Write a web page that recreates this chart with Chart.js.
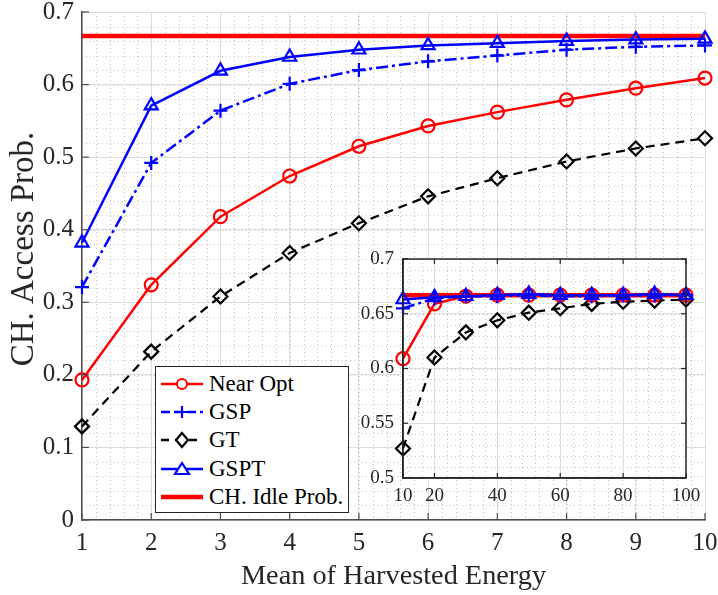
<!DOCTYPE html>
<html>
<head>
<meta charset="utf-8">
<script src="https://cdn.jsdelivr.net/npm/chart.js@4.4.0/dist/chart.umd.min.js"></script>
<style>
  html, body { margin: 0; padding: 0; background: #fff; }
  #wrap { position: relative; width: 718px; height: 595px; overflow: hidden; }
  #mainChart { position: absolute; left: 0; top: 0; }
  #insetChart { position: absolute; left: 340px; top: 245px; }
  #legend {
    position: absolute; left: 155px; top: 366px; width: 194px; height: 147px;
    box-sizing: border-box; border: 1px solid #262626; background: #fff;
    padding-top: 3px; font-family: "Liberation Serif", serif; font-size: 23px; color: #000;
  }
  #legend .row { display: flex; align-items: center; height: 28.2px; }
  #legend svg { margin-left: 3px; flex: none; }
  #legend span { margin-left: 4px; white-space: nowrap; }
</style>
</head>
<body>
<div id="wrap">
  <canvas id="mainChart" width="718" height="595"></canvas>
  <canvas id="insetChart" width="360" height="275"></canvas>
  <div id="legend"></div>
</div>
<script>
// main plot: mean of harvested energy 1..10
const energy = [1, 2, 3, 4, 5, 6, 7, 8, 9, 10];
const nearOpt = [0.193, 0.324, 0.418, 0.474, 0.515, 0.543, 0.562, 0.579, 0.595, 0.609];
const gsp     = [0.321, 0.492, 0.564, 0.601, 0.620, 0.632, 0.640, 0.648, 0.652, 0.654];
const gt      = [0.129, 0.232, 0.308, 0.368, 0.409, 0.446, 0.471, 0.494, 0.512, 0.526];
const gspt    = [0.382, 0.571, 0.619, 0.638, 0.648, 0.654, 0.657, 0.660, 0.662, 0.663];
const idleProb = [0.667, 0.667, 0.667, 0.667, 0.667, 0.667, 0.667, 0.667, 0.667, 0.667];

// inset: energy 10..100
const insetEnergy = [10, 20, 30, 40, 50, 60, 70, 80, 90, 100];
const insetNearOpt = [0.609, 0.659, 0.666, 0.667, 0.667, 0.667, 0.667, 0.667, 0.667, 0.667];
const insetGsp     = [0.655, 0.664, 0.666, 0.666, 0.667, 0.666, 0.666, 0.667, 0.667, 0.667];
const insetGt      = [0.527, 0.610, 0.633, 0.644, 0.651, 0.655, 0.659, 0.661, 0.662, 0.663];
const insetGspt    = [0.663, 0.665, 0.666, 0.667, 0.668, 0.667, 0.667, 0.667, 0.668, 0.667];
const insetIdle    = [0.667, 0.667, 0.667, 0.667, 0.667, 0.667, 0.667, 0.667, 0.667, 0.667];

const insetXTicks = [10, 20, 40, 60, 80, 100];

const seriesNames = ['Near Opt', 'GSP', 'GT', 'GSPT', 'CH. Idle Prob.'];
const xTitle = 'Mean of Harvested Energy';
const yTitle = 'CH. Access Prob.';

const FONT = '"Liberation Serif", "Times New Roman", serif';
Chart.defaults.font.family = FONT;
Chart.defaults.color = '#262626';

const toPoints = (xs, ys) => xs.map((x, i) => ({ x: x, y: ys[i] }));

function makeDatasets(xs, a, b, c, d, e) {
  const common = { fill: false, tension: 0, clip: false, pointBackgroundColor: 'rgba(0,0,0,0)', pointBorderWidth: 2.2 };
  return [
    { ...common, label: seriesNames[4], data: toPoints(xs, e), borderColor: '#ff0000', borderWidth: 4.5, pointRadius: 0, order: 5 },
    { ...common, label: seriesNames[2], data: toPoints(xs, c), borderColor: '#000', borderWidth: 2.2, borderDash: [9, 6],
      pointStyle: 'rectRot', pointRadius: 7, pointBorderColor: '#000', order: 4 },
    { ...common, label: seriesNames[0], data: toPoints(xs, a), borderColor: '#ff0000', borderWidth: 2.5,
      pointStyle: 'circle', pointRadius: 6.5, pointBorderColor: '#ff0000', order: 3 },
    { ...common, label: seriesNames[1], data: toPoints(xs, b), borderColor: '#0000ff', borderWidth: 2.5, borderDash: [12, 4, 3, 4],
      pointStyle: 'cross', pointRadius: 7, pointBorderColor: '#0000ff', order: 2 },
    { ...common, label: seriesNames[3], data: toPoints(xs, d), borderColor: '#0000ff', borderWidth: 2.5,
      pointStyle: 'triangle', pointRadius: 7.5, pointBorderColor: '#0000ff', order: 1 }
  ];
}

// white plot background, dotted minor grid, inward tick marks, optional box
const matlabGrid = {
  id: 'matlabGrid',
  beforeDraw(chart, args, opts) {
    const { ctx, chartArea: a, scales } = chart;
    ctx.save();
    ctx.fillStyle = '#fff';
    ctx.fillRect(a.left, a.top, a.width, a.height);
    ctx.strokeStyle = '#c4c4c4';
    ctx.lineWidth = 1;
    ctx.setLineDash([1, 3]);
    const sx = scales.x, sy = scales.y;
    for (let k = Math.ceil(sx.min / opts.xStep - 1e-6); k * opts.xStep <= sx.max + 1e-6; k++) {
      const px = Math.round(sx.getPixelForValue(k * opts.xStep)) + 0.5;
      ctx.beginPath(); ctx.moveTo(px, a.top); ctx.lineTo(px, a.bottom); ctx.stroke();
    }
    for (let k = Math.ceil(sy.min / opts.yStep - 1e-6); k * opts.yStep <= sy.max + 1e-6; k++) {
      const py = Math.round(sy.getPixelForValue(k * opts.yStep)) + 0.5;
      ctx.beginPath(); ctx.moveTo(a.left, py); ctx.lineTo(a.right, py); ctx.stroke();
    }
    ctx.restore();
  },
  afterDraw(chart, args, opts) {
    const { ctx, chartArea: a, scales } = chart;
    const L = opts.tickLen;
    ctx.save();
    ctx.strokeStyle = opts.axisColor;
    ctx.lineWidth = 1.2;
    scales.x.ticks.forEach(t => {
      const px = scales.x.getPixelForValue(t.value);
      ctx.beginPath(); ctx.moveTo(px, a.bottom); ctx.lineTo(px, a.bottom - L); ctx.stroke();
      if (opts.box) { ctx.beginPath(); ctx.moveTo(px, a.top); ctx.lineTo(px, a.top + L); ctx.stroke(); }
    });
    scales.y.ticks.forEach(t => {
      const py = scales.y.getPixelForValue(t.value);
      ctx.beginPath(); ctx.moveTo(a.left, py); ctx.lineTo(a.left + L, py); ctx.stroke();
      if (opts.box) { ctx.beginPath(); ctx.moveTo(a.right, py); ctx.lineTo(a.right - L, py); ctx.stroke(); }
    });
    if (opts.box) {
      ctx.lineWidth = 1.5;
      ctx.strokeRect(a.left, a.top, a.width, a.height);
    }
    // rotated y label (placed like the MATLAB export, a bit above centre)
    if (opts.yTitle) {
      ctx.fillStyle = '#262626';
      ctx.font = opts.yTitle.size + 'px ' + FONT;
      ctx.translate(opts.yTitle.x, opts.yTitle.y);
      ctx.rotate(-Math.PI / 2);
      ctx.textAlign = 'center';
      ctx.textBaseline = 'alphabetic';
      ctx.fillText(opts.yTitle.text, 0, 0);
    }
    ctx.restore();
  }
};

const noPad = s => { s.paddingTop = 0; s.paddingBottom = 0; s.paddingLeft = 0; s.paddingRight = 0; };

new Chart(document.getElementById('mainChart'), {
  type: 'line',
  data: { datasets: makeDatasets(energy, nearOpt, gsp, gt, gspt, idleProb) },
  options: {
    responsive: false,
    animation: false,
    layout: { padding: { top: 12, right: 13, left: 0, bottom: 0 } },
    plugins: {
      legend: { display: false },
      tooltip: { enabled: false },
      matlabGrid: { xStep: 0.2, yStep: 0.02, tickLen: 7, axisColor: '#4d4d4d', box: false,
        yTitle: { text: yTitle, size: 33, x: 33, y: 249 } }
    },
    scales: {
      x: {
        type: 'linear', min: 1, max: 10,
        ticks: { stepSize: 1, font: { size: 25 }, padding: 8, maxRotation: 0 },
        grid: { color: '#dcdcdc', lineWidth: 1, drawTicks: false },
        border: { color: '#4d4d4d', width: 1.5 },
        title: { display: true, text: xTitle, font: { size: 28.3 }, padding: { top: 0, bottom: 1 } },
        afterFit: s => { s.height = 75; noPad(s); }
      },
      y: {
        type: 'linear', min: 0, max: 0.7,
        ticks: { stepSize: 0.1, font: { size: 25 }, padding: 8, callback: v => String(Math.round(v * 10) / 10) },
        grid: { color: '#dcdcdc', lineWidth: 1, drawTicks: false },
        border: { color: '#4d4d4d', width: 1.5 },
        afterFit: s => { s.width = 82; noPad(s); }
      }
    }
  },
  plugins: [matlabGrid]
});

new Chart(document.getElementById('insetChart'), {
  type: 'line',
  data: { datasets: makeDatasets(insetEnergy, insetNearOpt, insetGsp, insetGt, insetGspt, insetIdle) },
  options: {
    responsive: false,
    animation: false,
    layout: { padding: { top: 14, right: 14, left: 0, bottom: 0 } },
    plugins: {
      legend: { display: false },
      tooltip: { enabled: false },
      matlabGrid: { xStep: 4, yStep: 0.01, tickLen: 5, axisColor: '#262626', box: true }
    },
    scales: {
      x: {
        type: 'linear', min: 10, max: 100,
        afterBuildTicks: s => { s.ticks = insetXTicks.map(v => ({ value: v })); },
        ticks: { font: { size: 19 }, padding: 7, maxRotation: 0, autoSkip: false },
        grid: { color: '#dcdcdc', lineWidth: 1, drawTicks: false },
        border: { color: '#262626', width: 1.5 },
        afterFit: s => { s.height = 42; noPad(s); }
      },
      y: {
        type: 'linear', min: 0.5, max: 0.7,
        ticks: { stepSize: 0.05, font: { size: 19 }, padding: 9, callback: v => String(Math.round(v * 100) / 100) },
        grid: { color: '#dcdcdc', lineWidth: 1, drawTicks: false },
        border: { color: '#262626', width: 1.5 },
        afterFit: s => { s.width = 63; noPad(s); }
      }
    }
  },
  plugins: [matlabGrid]
});

// legend (line sample with marker + name), MATLAB style
const legendStyles = [
  { color: '#ff0000', dash: '', w: 2.5, marker: 'circle' },
  { color: '#0000ff', dash: '9 4', w: 2.5, marker: 'cross' },
  { color: '#000', dash: '8 6', w: 2.5, marker: 'diamond' },
  { color: '#0000ff', dash: '', w: 2.5, marker: 'triangle' },
  { color: '#ff0000', dash: '', w: 4.5, marker: '' }
];
function markerSvg(m, c) {
  const cx = 23, cy = 10;
  if (m === 'circle') return `<circle cx="${cx}" cy="${cy}" r="5" fill="#fff" stroke="${c}" stroke-width="2"/>`;
  if (m === 'cross') return `<path d="M${cx - 6} ${cy}H${cx + 6}M${cx} ${cy - 6}V${cy + 6}" stroke="${c}" stroke-width="2.2"/>`;
  if (m === 'diamond') return `<path d="M${cx} ${cy - 7}L${cx + 6} ${cy}L${cx} ${cy + 7}L${cx - 6} ${cy}Z" fill="#fff" stroke="${c}" stroke-width="2.2"/>`;
  if (m === 'triangle') return `<path d="M${cx} ${cy - 6}L${cx + 7} ${cy + 5}L${cx - 7} ${cy + 5}Z" fill="#fff" stroke="${c}" stroke-width="2.2"/>`;
  return '';
}
const legendEl = document.getElementById('legend');
seriesNames.forEach((name, i) => {
  const st = legendStyles[i];
  const row = document.createElement('div');
  row.className = 'row';
  row.innerHTML = `<svg width="46" height="20"><line x1="2" y1="10" x2="44" y2="10" stroke="${st.color}" stroke-width="${st.w}" stroke-dasharray="${st.dash}"/>${markerSvg(st.marker, st.color)}</svg><span>${name}</span>`;
  legendEl.appendChild(row);
});
</script>
</body>
</html>
